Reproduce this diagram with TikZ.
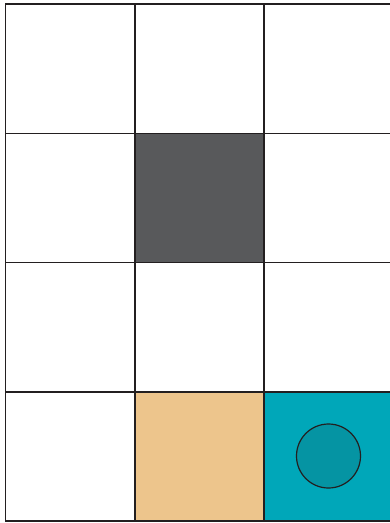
\documentclass[tikz,border=0pt]{standalone}
\definecolor{wall}{HTML}{58595B}
\definecolor{tan}{HTML}{EDC58C}
\definecolor{teal1}{HTML}{00A7B9}
\definecolor{teal2}{HTML}{0594A3}
\definecolor{gridc}{HTML}{231F20}
\begin{document}
\begin{tikzpicture}[x=1pt,y=-1pt,
  cellline/.style={draw=gridc,line width=1.5pt},
  agent/.style={circle,draw=gridc,line width=1.2pt,fill=teal2,minimum size=64pt,inner sep=0pt}]
\useasboundingbox (0,0) rectangle (390,523);
\def\cs{129.3}
\fill[wall] (135,133) rectangle (264.5,262.5);
\fill[tan] (135,392) rectangle (264.5,521);
\fill[teal1] (264.5,392) rectangle (394,521);
\foreach \i in {0,1,2,3}{
  \foreach \j in {0,1,2}{
    \draw[cellline] ({5.5+\j*\cs},{4+\i*\cs}) rectangle ({5.5+(\j+1)*\cs},{4+(\i+1)*\cs});
  }
}
\node[agent] (a) at (328.5,456) {};
\end{tikzpicture}
\end{document}
